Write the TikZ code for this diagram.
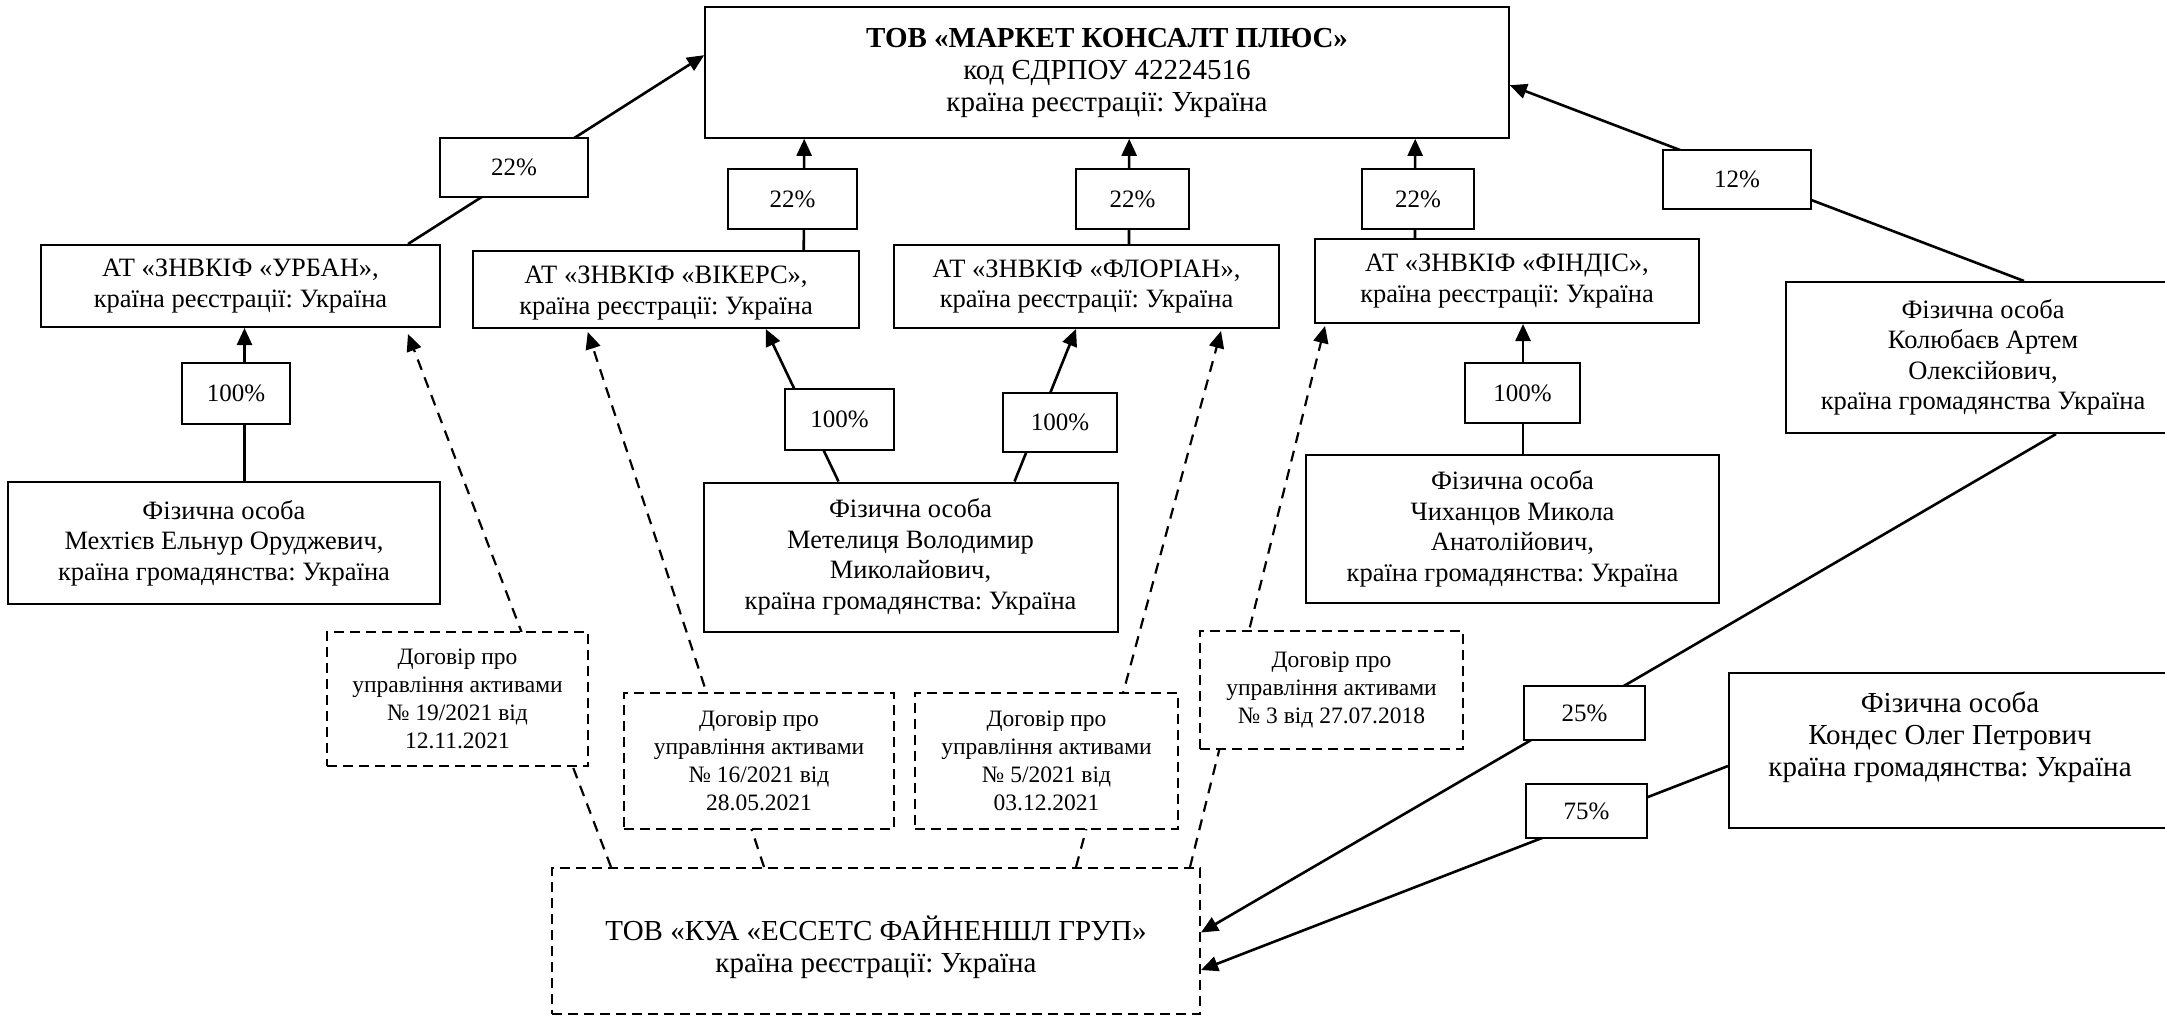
\documentclass[tikz,border=0pt]{standalone}
\usepackage{fontspec}
\setmainfont{Liberation Serif}
\usetikzlibrary{arrows.meta,calc}
\pgfdeclarelayer{bg}
\pgfsetlayers{bg,main}
\frenchspacing
\begin{document}
\frenchspacing
\begin{tikzpicture}[x=1pt,y=-1pt,
  bx/.style={draw, line width=2pt, fill=white, align=center, inner sep=0pt, font=\fontsize{26.5}{30.5}\selectfont\frenchspacing},
  bigfont/.style={font=\fontsize{29}{32}\selectfont\frenchspacing},
  pct/.style={draw, line width=1.5pt, fill=white, inner sep=0pt, font=\fontsize{25}{30}\selectfont},
  pctthick/.style={pct, line width=2.5pt},
  ctr/.style={draw, line width=2pt, dash pattern=on 10pt off 6pt, fill=white, align=center, inner sep=0pt, font=\fontsize{23.5}{28}\selectfont\frenchspacing},
  con/.style={line width=2.6pt},
  arr/.style={con, -{Triangle[length=17pt,width=15pt]}},
  darr/.style={line width=2.2pt, dash pattern=on 11pt off 8pt, -{Triangle[length=17pt,width=15pt]}}
]
\useasboundingbox (0,0) rectangle (2165,1016);

% main boxes
\node[bx, bigfont, line width=1.6pt, minimum width=804pt, minimum height=131pt] (top) at (1107,72.5)
  {\textbf{ТОВ «МАРКЕТ КОНСАЛТ ПЛЮС»}\\код ЄДРПОУ 42224516\\країна реєстрації: Україна};
\node[bx, minimum width=399pt, minimum height=82pt] (urban) at (240.5,286)
  {АТ «ЗНВКІФ «УРБАН»,\\країна реєстрації: Україна};
\node[bx, minimum width=385.5pt, minimum height=77pt] (vikers) at (666,289.5)
  {\rule{0pt}{17pt}\\[-22.5pt]АТ «ЗНВКІФ «ВІКЕРС»,\\країна реєстрації: Україна};
\node[bx, minimum width=385pt, minimum height=83pt] (florian) at (1086.5,286.5)
  {АТ «ЗНВКІФ «ФЛОРІАН»,\\країна реєстрації: Україна};
\node[bx, minimum width=384pt, minimum height=84pt] (findis) at (1507,281)
  {АТ «ЗНВКІФ «ФІНДІС»,\\країна реєстрації: Україна};
\node[bx, minimum width=394pt, minimum height=151pt] (kol) at (1983,357.5)
  {Фізична особа\\Колюбаєв Артем\\Олексійович,\\країна громадянства Україна};
\node[bx, minimum width=432pt, minimum height=122pt] (mekh) at (224,543)
  {Фізична особа\\Мехтієв Ельнур Оруджевич,\\країна громадянства: Україна};
\node[bx, minimum width=414pt, minimum height=149pt] (metel) at (910.5,557)
  {Фізична особа\\Метелиця Володимир\\Миколайович,\\країна громадянства: Україна};
\node[bx, minimum width=413pt, minimum height=148pt] (chyh) at (1512.5,529)
  {Фізична особа\\Чиханцов Микола\\Анатолійович,\\країна громадянства: Україна};
\node[bx, bigfont, minimum width=442pt, minimum height=155pt] (kondes) at (1950,750.5)
  {Фізична особа\\Кондес Олег Петрович\\країна громадянства: Україна\\\mbox{}};
\node[bx, bigfont, dash pattern=on 10pt off 6pt, minimum width=648pt, minimum height=146pt] (kua) at (876,941)
  {\rule{0pt}{22pt}\\[-16pt]ТОВ «КУА «ЕССЕТС ФАЙНЕНШЛ ГРУП»\\країна реєстрації: Україна};

% contract boxes
\node[ctr, minimum width=261.5pt, minimum height=134pt] (c19) at (457.5,699)
  {Договір про\\управління активами\\№ 19/2021 від\\12.11.2021};
\node[ctr, minimum width=270pt, minimum height=136pt] (c16) at (759,761)
  {Договір про\\управління активами\\№ 16/2021 від\\28.05.2021};
\node[ctr, minimum width=263pt, minimum height=136pt] (c5) at (1046.5,761)
  {Договір про\\управління активами\\№ 5/2021 від\\03.12.2021};
\node[ctr, minimum width=263pt, minimum height=118pt] (c3) at (1331.5,690)
  {Договір про\\управління активами\\№ 3 від 27.07.2018};

% percentage labels
\node[pct, minimum width=148pt, minimum height=59pt] (p22a) at (514,167.5) {22\%};
\node[pct, minimum width=129pt, minimum height=60pt] (p22b) at (792.5,199) {22\%};
\node[pct, minimum width=113pt, minimum height=60pt] (p22c) at (1132.5,199) {22\%};
\node[pct, minimum width=112pt, minimum height=60pt] (p22d) at (1418,199) {22\%};
\node[pct, minimum width=148pt, minimum height=59pt] (p12) at (1737,179.5) {12\%};
\node[pctthick, minimum width=108pt, minimum height=61pt] (p100a) at (236,393.5) {100\%};
\node[pctthick, minimum width=109pt, minimum height=61pt] (p100b) at (839.5,419.5) {100\%};
\node[pct, minimum width=114pt, minimum height=59pt] (p100c) at (1060,422.5) {100\%};
\node[pct, minimum width=115pt, minimum height=60pt] (p100d) at (1522.5,393) {100\%};
\node[pctthick, minimum width=121pt, minimum height=54pt] (p25) at (1584.5,713) {25\%};
\node[pctthick, minimum width=121pt, minimum height=54pt] (p75) at (1586.5,811) {75\%};

\begin{pgfonlayer}{bg}
% ownership connectors
\draw[arr] ($(urban.north west)+(368,0)$) -- ($(top.north west)+(0,49)$);
\draw[arr] ($(vikers.north west)+(331.5,0)$) -- ($(top.south west)+(100,0)$);
\draw[arr] ($(florian.north west)+(236,0)$) -- ($(top.south west)+(425,0)$);
\draw[arr] ($(findis.north west)+(101,0)$) -- ($(top.south west)+(711,0)$);
\draw[arr] ($(kol.north west)+(239,0)$) -- ($(top.north east)+(0,79)$);
\draw[arr] ($(mekh.north west)+(237.5,0)$) -- ($(urban.south west)+(204.5,0)$);
\draw[arr] ($(metel.north west)+(136,0)$) -- ($(vikers.south west)+(293.5,0)$);
\draw[arr] ($(metel.north west)+(312,0)$) -- ($(florian.south west)+(183,0)$);
\draw[arr] ($(chyh.north west)+(218,0)$) -- ($(findis.south west)+(209,0)$);
\draw[arr] ($(kol.south west)+(271,0)$) -- ($(kua.north east)+(0,65.5)$);
\draw[arr] ($(kondes.north west)+(0,94)$) -- ($(kua.north east)+(0,103)$);
% management contracts
\draw[darr] ($(kua.north west)+(60,0)$) -- ($(urban.south west)+(368,6)$);
\draw[darr] ($(kua.north west)+(213,0)$) -- ($(vikers.south west)+(115.5,3)$);
\draw[darr] ($(kua.north west)+(525,0)$) -- ($(florian.south west)+(328,2)$);
\draw[darr] ($(kua.north west)+(639,0)$) -- ($(findis.south west)+(11,2)$);
\end{pgfonlayer}
\end{tikzpicture}
\end{document}
